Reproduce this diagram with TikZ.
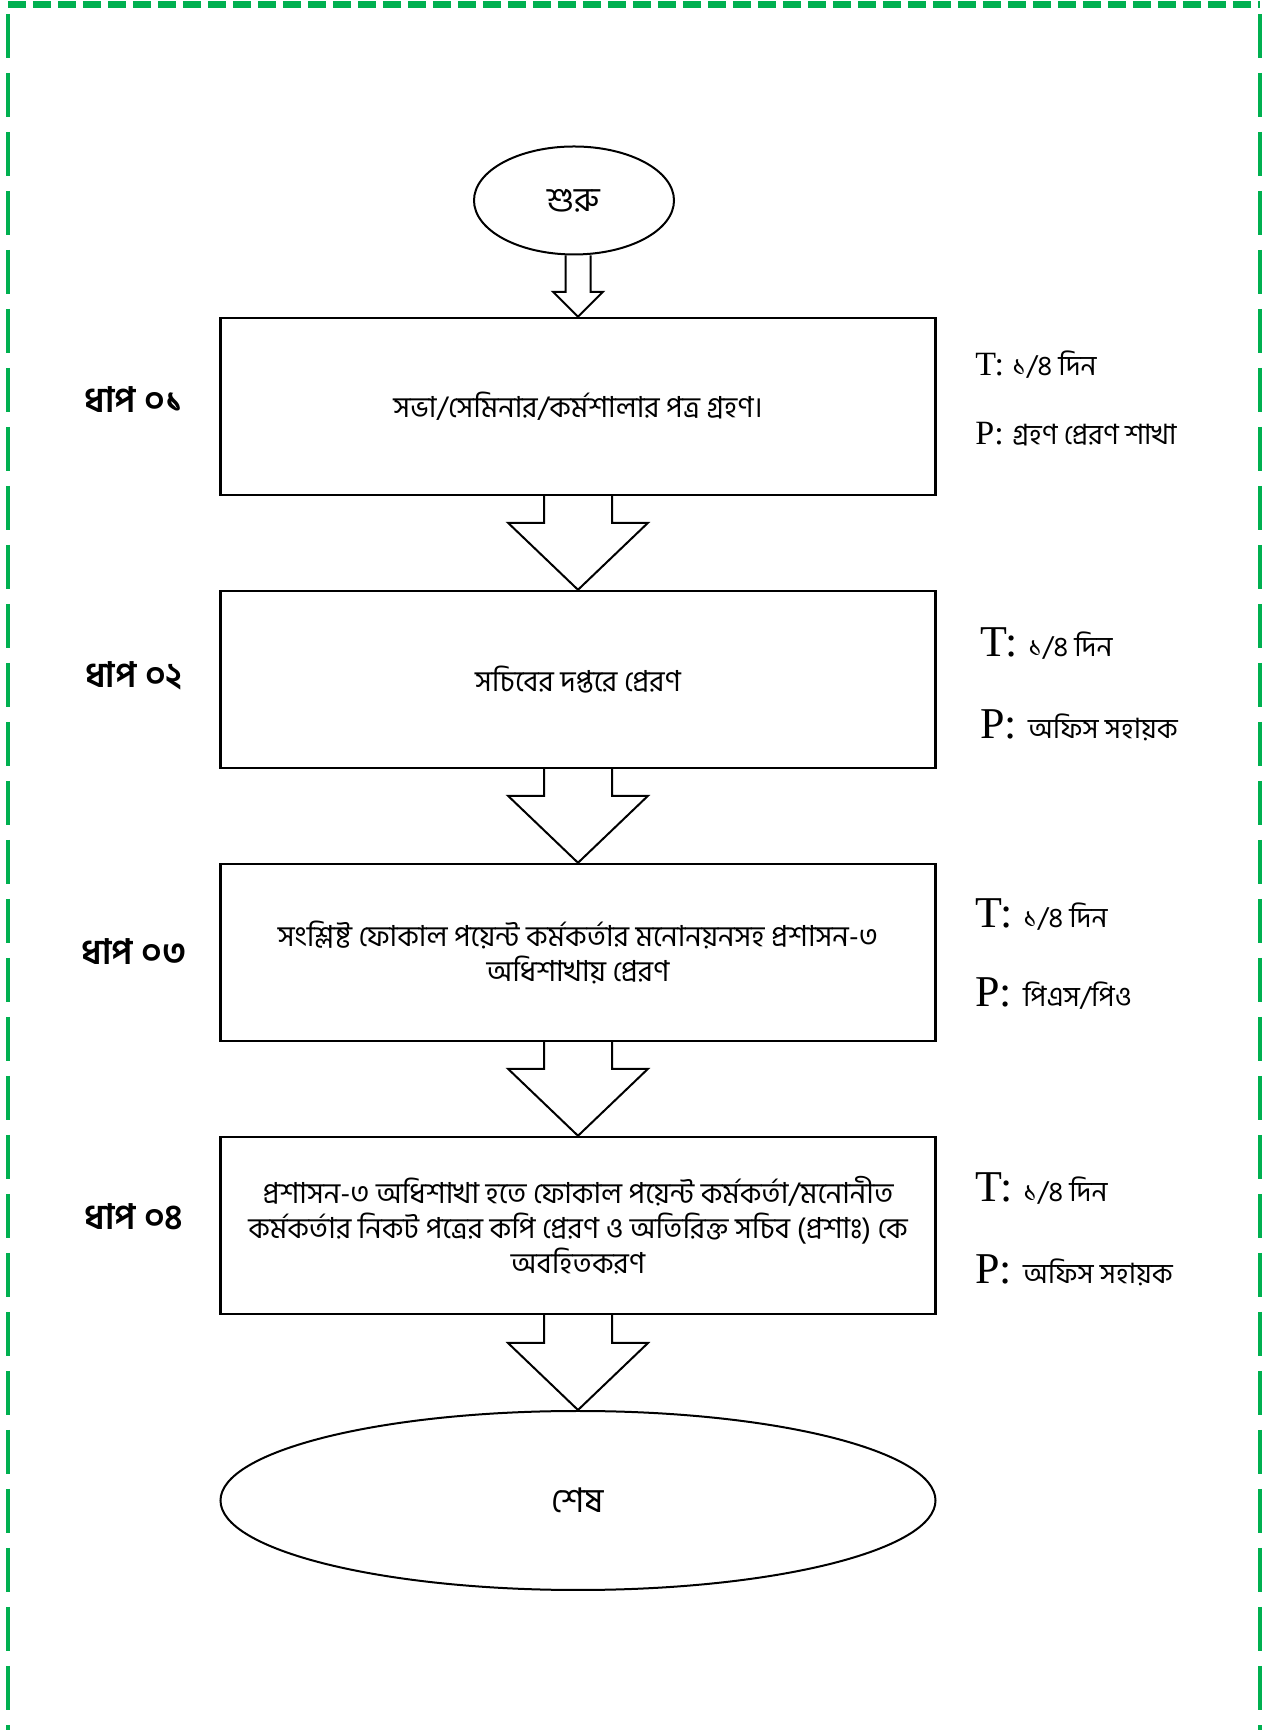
\documentclass[tikz,border=0pt]{standalone}
\usepackage{fontspec}
\setmainfont{Liberation Serif}
\newfontfamily\bn[Script=Bengali]{Hind Siliguri}
\usepackage{tikz}
\usetikzlibrary{positioning,shapes.geometric,calc}
\definecolor{framegreen}{RGB}{0,176,80}
\tikzstyle{stepbox}=[draw, line width=1.2pt, minimum width=357.5pt, minimum height=88.5pt, align=center, font=\bn\fontsize{14.5}{17.5}\selectfont]
\tikzstyle{term}=[draw, ellipse, line width=1pt, inner sep=0pt, font=\bn\fontsize{17}{19}\selectfont]
\tikzstyle{steplbl}=[font=\bn\bfseries\fontsize{17.5}{19}\selectfont]
\tikzstyle{tp}=[inner sep=0pt, font=\fontsize{22}{24}\selectfont]
\tikzstyle{tpsmall}=[inner sep=0pt, font=\fontsize{17}{19}\selectfont]
\tikzstyle{blk}=[line width=1pt, line join=miter]
\newcommand{\blockarrow}[5]{% from, to, shaft half width, head half width, head length
  \draw[blk] ($(#1.south -| #2.north)+(-#3,0)$) -- ($(#2.north)+(-#3,#5)$) -- ($(#2.north)+(-#4,#5)$)
    -- (#2.north) -- ($(#2.north)+(#4,#5)$) -- ($(#2.north)+(#3,#5)$) -- ($(#1.south -| #2.north)+(#3,0)$);}
\newcommand{\bnsmall}[1]{{\bn\fontsize{14}{16}\selectfont #1}}

\begin{document}
\begin{tikzpicture}[node distance=2cm,auto,>=latex]
\useasboundingbox (0,0) rectangle (635pt,865pt);

% frame, open at the bottom
\draw[framegreen, line width=3.5pt, dash pattern=on 9pt off 3.5pt] (3.9pt,862.5pt) -- (630pt,862.5pt);
\draw[framegreen, line width=2.2pt, dash pattern=on 22pt off 7.5pt] (3.9pt,858pt) -- (3.9pt,0pt);
\draw[framegreen, line width=2.2pt, dash pattern=on 22pt off 7.5pt] (630pt,858pt) -- (630pt,0pt);

\node[term, minimum width=100pt, minimum height=54pt] at (287pt,764.75pt) (start) {শুরু};

\node[stepbox, below of = start, node distance = 103pt, xshift = 2pt] (s1) {সভা/সেমিনার/কর্মশালার পত্র গ্রহণ।};
\node[stepbox, below of = s1, node distance = 136.5pt] (s2) {সচিবের দপ্তরে প্রেরণ};
\node[stepbox, below of = s2, node distance = 136.5pt] (s3) {সংশ্লিষ্ট ফোকাল পয়েন্ট কর্মকর্তার মনোনয়নসহ প্রশাসন-৩\\অধিশাখায় প্রেরণ};
\node[stepbox, below of = s3, node distance = 136.5pt] (s4) {প্রশাসন-৩ অধিশাখা হতে ফোকাল পয়েন্ট কর্মকর্তা/মনোনীত\\কর্মকর্তার নিকট পত্রের কপি প্রেরণ ও অতিরিক্ত সচিব (প্রশাঃ) কে\\অবহিতকরণ};
\node[term, below of = s4, node distance = 137.5pt, minimum width=357.5pt, minimum height=89.5pt] (end) {শেষ};

\blockarrow{start}{s1}{6.25pt}{12.5pt}{12.5pt}
\blockarrow{s1}{s2}{17pt}{35pt}{33.5pt}
\blockarrow{s2}{s3}{17pt}{35pt}{33.5pt}
\blockarrow{s3}{s4}{17pt}{35pt}{33.5pt}
\blockarrow{s4}{end}{17pt}{35pt}{33.5pt}

% step numbers
\node[steplbl, left of = s1, node distance = 222pt, yshift = 3.5pt] (l1) {ধাপ ০১};
\node[steplbl, left of = s2, node distance = 222pt, yshift = 2pt] (l2) {ধাপ ০২};
\node[steplbl, left of = s3, node distance = 222pt, yshift = 0.5pt] (l3) {ধাপ ০৩};
\node[steplbl, left of = s4, node distance = 222pt, yshift = 4.5pt] (l4) {ধাপ ০৪};

% time and person
\node[tpsmall, right of = s1, node distance = 198.5pt, yshift = 20.75pt, anchor=west] (t1) {T: \bnsmall{১/৪ দিন}};
\node[tpsmall, right of = s1, node distance = 198.5pt, yshift = -13.75pt, anchor=west] (p1) {P: \bnsmall{গ্রহণ প্রেরণ শাখা}};
\node[tp, right of = s2, node distance = 201pt, yshift = 18pt, anchor=west] (t2) {T: \bnsmall{১/৪ দিন}};
\node[tp, right of = s2, node distance = 201pt, yshift = -23pt, anchor=west] (p2) {P: \bnsmall{অফিস সহায়ক}};
\node[tp, right of = s3, node distance = 198.5pt, yshift = 18.75pt, anchor=west] (t3) {T: \bnsmall{১/৪ দিন}};
\node[tp, right of = s3, node distance = 198.5pt, yshift = -20.75pt, anchor=west] (p3) {P: \bnsmall{পিএস/পিও}};
\node[tp, right of = s4, node distance = 198.5pt, yshift = 18.5pt, anchor=west] (t4) {T: \bnsmall{১/৪ দিন}};
\node[tp, right of = s4, node distance = 198.5pt, yshift = -22.5pt, anchor=west] (p4) {P: \bnsmall{অফিস সহায়ক}};
\end{tikzpicture}
\end{document}
